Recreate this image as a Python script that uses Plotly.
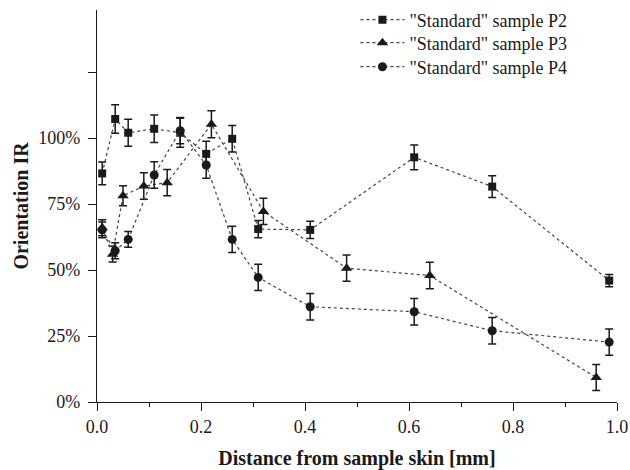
import plotly.graph_objects as go

# Data
p2_x = [0.01, 0.035, 0.06, 0.11, 0.16, 0.21, 0.26, 0.31, 0.41, 0.61, 0.76, 0.985]
p2_y = [0.866, 1.072, 1.02, 1.035, 1.02, 0.94, 0.997, 0.655, 0.652, 0.927, 0.816, 0.46]
p2_e = [0.043, 0.054, 0.051, 0.052, 0.055, 0.048, 0.05, 0.033, 0.033, 0.047, 0.041, 0.023]

p3_x = [0.01, 0.03, 0.05, 0.09, 0.135, 0.22, 0.32, 0.48, 0.64, 0.96]
p3_y = [0.66, 0.56, 0.781, 0.818, 0.831, 1.052, 0.722, 0.507, 0.479, 0.093]
p3_e = [0.03, 0.03, 0.038, 0.05, 0.05, 0.051, 0.05, 0.05, 0.05, 0.049]

p4_x = [0.01, 0.035, 0.06, 0.11, 0.16, 0.21, 0.26, 0.31, 0.41, 0.61, 0.76, 0.985]
p4_y = [0.652, 0.573, 0.616, 0.86, 1.028, 0.898, 0.616, 0.472, 0.361, 0.342, 0.27, 0.227]
p4_e = [0.03, 0.03, 0.03, 0.05, 0.05, 0.05, 0.05, 0.05, 0.05, 0.05, 0.05, 0.05]

names = ['"Standard" sample P2', '"Standard" sample P3', '"Standard" sample P4']
y_tickvals = [0, 0.25, 0.5, 0.75, 1.0, 1.25]
y_ticktext = ["0%", "25%", "50%", "75%", "100%", ""]

FONT = "Liberation Serif, Times New Roman, serif"
INK = "#1a1a1a"

fig = go.Figure()
series = [
    (p2_x, p2_y, p2_e, names[0], "square", 8, "legend"),
    (p3_x, p3_y, p3_e, names[1], "triangle-up", 10, "legend2"),
    (p4_x, p4_y, p4_e, names[2], "circle", 9, "legend3"),
]
for xs, ys, es, nm, sym, sz, lg in series:
    fig.add_trace(go.Scatter(
        x=xs, y=ys, name=nm, mode="lines+markers", legend=lg,
        line=dict(color="#444444", width=1.2, dash="dot"),
        marker=dict(symbol=sym, size=sz, color=INK),
        error_y=dict(type="data", array=es, visible=True,
                     color=INK, thickness=1.5, width=4),
    ))

def leg(yc):
    return dict(
        x=0.497, y=yc, xanchor="left", yanchor="middle",
        bgcolor="rgba(0,0,0,0)", font=dict(size=18, family=FONT, color=INK),
        itemwidth=44,
    )

fig.update_layout(
    width=630, height=470,
    margin=dict(l=97, r=13, t=10, b=68, autoexpand=False),
    paper_bgcolor="white", plot_bgcolor="white",
    font=dict(family=FONT, color=INK, size=18),
    showlegend=True,
    legend=leg(0.9745),
    legend2=leg(0.9158),
    legend3=leg(0.8546),
    xaxis=dict(
        range=[0, 1.0], showgrid=False, zeroline=False, automargin=False,
        showline=True, linecolor=INK, linewidth=1.3,
        ticks="outside", ticklen=8, tickwidth=1.3, tickcolor=INK,
        tick0=0, dtick=0.2, tickformat=".1f",
        minor=dict(ticks="outside", ticklen=4, tickwidth=1.3, tickcolor=INK, dtick=0.1),
        tickfont=dict(size=18, family=FONT, color=INK),
        title=dict(text="<b>Distance from sample skin [mm]</b>",
                   font=dict(size=20, family=FONT, color=INK), standoff=15),
    ),
    yaxis=dict(
        range=[0, 1.485], showgrid=False, zeroline=False, automargin=False,
        showline=True, linecolor=INK, linewidth=1.3,
        ticks="outside", ticklen=8, tickwidth=1.3, tickcolor=INK,
        ticklabelstandoff=4,
        tickvals=y_tickvals, ticktext=y_ticktext,
        tickfont=dict(size=18, family=FONT, color=INK),
        title=dict(text="<b>Orientation IR</b>",
                   font=dict(size=20, family=FONT, color=INK), standoff=4),
    ),
)

fig.write_html("out.html")
